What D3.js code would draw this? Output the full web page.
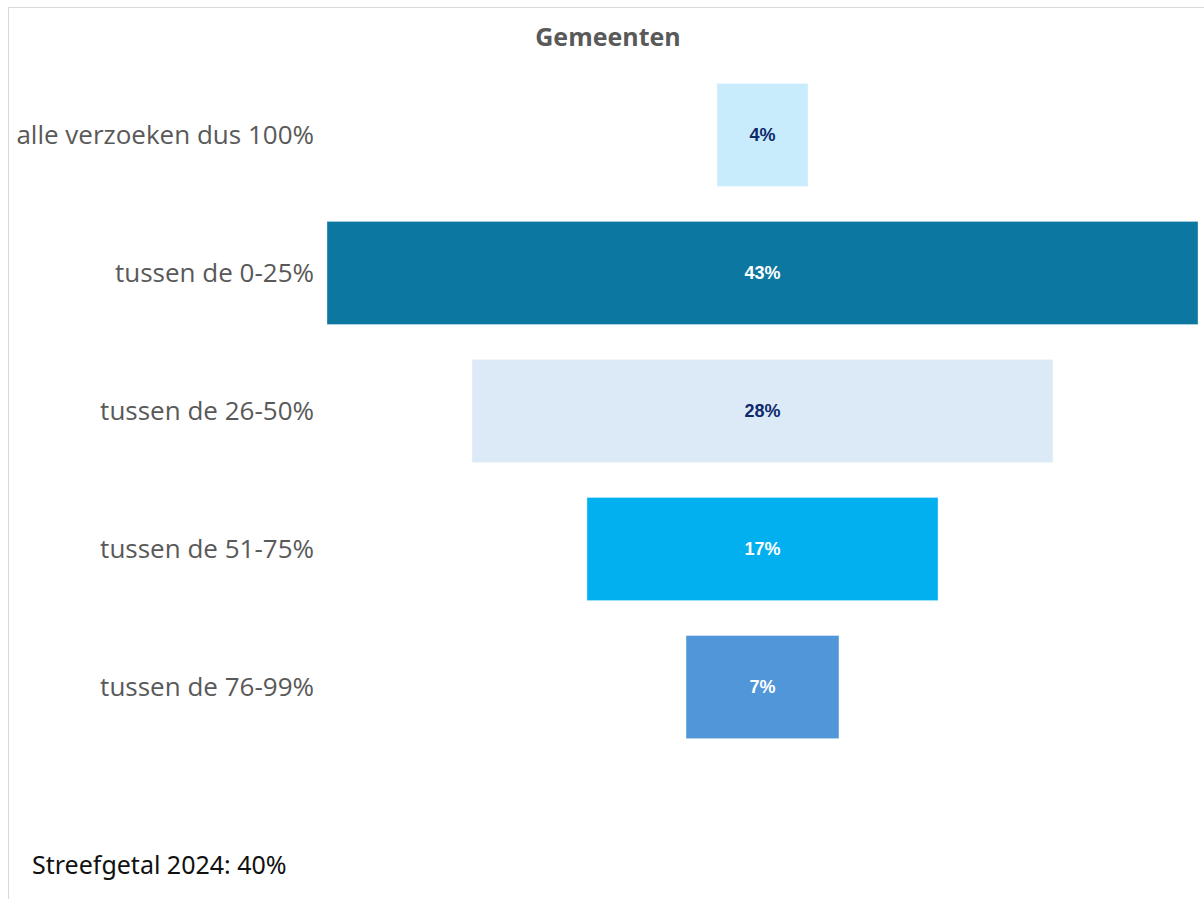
<!DOCTYPE html>
<html lang="nl">
<head>
    <meta charset="UTF-8">
    <title>Gemeenten</title>
    <script src="https://d3js.org/d3.v7.min.js"></script>
    <style>
        body { margin: 0; background: #fff; }
        .cat { fill: #595959; font-family: "Open Sans", "Noto Sans", sans-serif; font-size: 26px; }
        .val { font-family: "Liberation Sans", Arial, sans-serif; font-size: 18px; font-weight: bold; }
        .title { fill: #595959; font-family: "Open Sans", sans-serif; font-size: 25px; font-weight: bold; }
        .note { fill: #111; font-family: "Noto Sans", sans-serif; font-size: 25px; }
    </style>
</head>
<body>
<script>
    const width = 1204;
    const height = 899;

    // categories and shares (%)
    const categories = ["alle verzoeken dus 100%", "tussen de 0-25%", "tussen de 26-50%", "tussen de 51-75%", "tussen de 76-99%"];
    const values = [4.45, 42.55, 28.38, 17.15, 7.47];
    const labels = ["4%", "43%", "28%", "17%", "7%"];
    const colors = ["#c9ecfc", "#0c77a0", "#dce9f7", "#02b0f0", "#5096d9"];
    const labelColors = ["#0d2a6b", "#ffffff", "#0d2a6b", "#ffffff", "#ffffff"];

    const cx = 762.5;

    const svg = d3.select("body").append("svg")
        .attr("width", width).attr("height", height);

    // frame of the chart area (only top and left visible)
    svg.append("rect")
        .attr("x", 8.5).attr("y", 7.5)
        .attr("width", 1300).attr("height", 1000)
        .attr("fill", "none").attr("stroke", "#d9d9d9").attr("stroke-width", 1);

    const x = d3.scaleLinear().domain([0, 43]).range([0, 871 * 43 / 42.55]);
    const y = d3.scaleBand().domain(categories).range([66, 756]).paddingInner(0.253).paddingOuter(0.126);

    svg.append("text").attr("class", "title")
        .attr("x", 608).attr("y", 46).attr("text-anchor", "middle")
        .text("Gemeenten");

    const rows = svg.selectAll("g.row").data(categories).enter()
        .append("g").attr("class", "row");

    rows.append("rect")
        .attr("x", (d, i) => cx - x(values[i]) / 2)
        .attr("y", d => y(d))
        .attr("width", (d, i) => x(values[i]))
        .attr("height", y.bandwidth())
        .attr("fill", (d, i) => colors[i])
        .attr("stroke", "#ffffff").attr("stroke-opacity", 0.35).attr("stroke-width", 1);

    rows.append("text").attr("class", "val")
        .attr("x", cx)
        .attr("y", d => y(d) + y.bandwidth() / 2)
        .attr("dy", "0.35em")
        .attr("text-anchor", "middle")
        .attr("fill", (d, i) => labelColors[i])
        .text((d, i) => labels[i]);

    rows.append("text").attr("class", "cat")
        .attr("x", 314)
        .attr("y", d => y(d) + y.bandwidth() / 2)
        .attr("dy", "0.35em")
        .attr("text-anchor", "end")
        .text(d => d);

    svg.append("text").attr("class", "note")
        .attr("x", 32).attr("y", 874)
        .text("Streefgetal 2024: 40%");
</script>
</body>
</html>
